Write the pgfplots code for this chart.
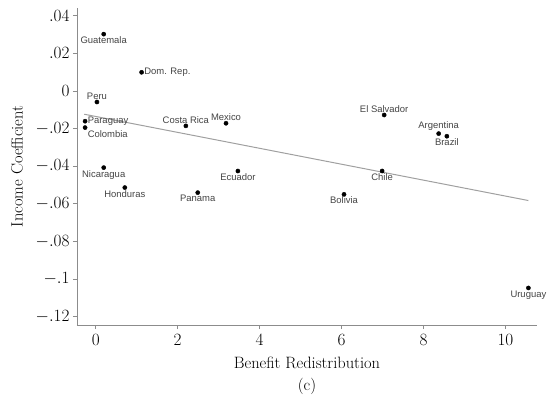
\documentclass[border=0pt]{standalone}
\usepackage{pgfplots}
\usepackage{fontspec}
\pgfplotsset{compat=1.18}
\newfontfamily\labfont{Liberation Sans}
\definecolor{labgray}{HTML}{444444}
\definecolor{axgray}{HTML}{8C8C8C}
\definecolor{linegray}{HTML}{A0A0A0}
\begin{document}
\begin{tikzpicture}
\path[use as bounding box] (-77bp,-78bp) rectangle (470bp,325bp);
\begin{axis}[
  at={(0,0)}, anchor=south west,
  scale only axis, width=460bp, height=317bp,
  xmin=-0.457, xmax=10.77, ymin=-0.1245, ymax=0.0441,
  axis x line*=bottom, axis y line*=left,
  axis line style={axgray, line width=0.9pt, -},
  tick style={axgray, line width=0.7pt},
  tick align=outside, major tick length=4bp,
  xtick={0,2,4,6,8,10},
  ytick={-0.12,-0.1,-0.08,-0.06,-0.04,-0.02,0,0.02,0.04},
  yticklabels={$-.12$,$-.1$,$-.08$,$-.06$,$-.04$,$-.02$,$0$,$.02$,$.04$},
  ticklabel style={font=\fontsize{17}{17}\selectfont, black},
  xticklabel style={yshift=-2bp},
  xlabel={Benefit Redistribution\\(c)},
  xlabel style={align=center, font=\fontsize{16.5}{22}\selectfont, yshift=-5bp},
  ylabel={Income Coefficient},
  ylabel style={font=\fontsize{16.5}{19}\selectfont, yshift=6bp},
  clip=false,
  pts/.style={only marks, mark=*, mark size=2.1bp, black,
    point meta=explicit symbolic, nodes near coords,
    every node near coord/.append style={anchor=#1, font=\labfont\fontsize{9.5}{10}\selectfont, text=labgray, inner sep=2.5pt}},
]
\addplot[linegray, line width=1pt] coordinates {(-0.28,-0.0124) (10.56,-0.0583)};
\addplot[pts=north] coordinates {
 (0.195,0.0302) [Guatemala]
 (0.195,-0.0408) [Nicaragua]
 (3.47,-0.0426) [Ecuador]
 (0.71,-0.0514) [Honduras]
 (2.49,-0.0541) [Panama]
 (8.57,-0.0241) [Brazil]
 (6.99,-0.0426) [Chile]
 (6.06,-0.0550) [Bolivia]
 (10.56,-0.1048) [Uruguay]
};
\addplot[pts=south] coordinates {
 (0.03,-0.0059) [Peru]
 (2.20,-0.0186) [Costa Rica]
 (3.18,-0.0172) [Mexico]
 (7.04,-0.0128) [El Salvador]
 (8.37,-0.0227) [Argentina]
};
\addplot[pts=west] coordinates {
 (1.12,0.0099) [Dom. Rep.]
 (-0.26,-0.0161) [Paraguay]
};
\addplot[pts=north west] coordinates {
 (-0.26,-0.0195) [Colombia]
};
\end{axis}
\end{tikzpicture}
\end{document}
